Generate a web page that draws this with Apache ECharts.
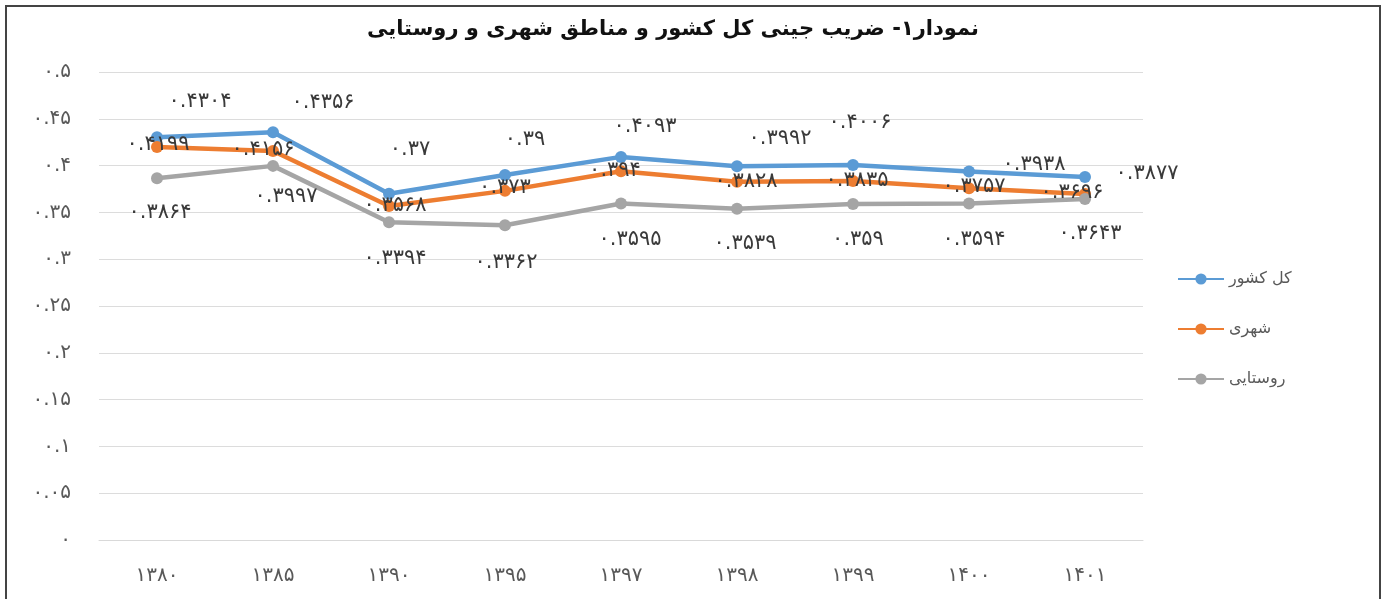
<!DOCTYPE html>
<html><head><meta charset="utf-8">
<script src="https://cdn.jsdelivr.net/npm/echarts@6/dist/echarts.min.js"></script>
<style>html,body{margin:0;padding:0;background:#fff}#c{width:1384px;height:599px}</style>
</head><body><div id="c"></div>
<script>
const titleText = 'نمودار۱- ضریب جینی کل کشور و مناطق شهری و روستایی';
const categories = ['1380','1385','1390','1395','1397','1398','1399','1400','1401'];
const seriesNames = ['کل کشور','شهری','روستایی'];
const totalValues = [0.4304,0.4356,0.37,0.39,0.4093,0.3992,0.4006,0.3938,0.3877];
const urbanValues = [0.4199,0.4156,0.3568,0.373,0.394,0.3828,0.3835,0.3757,0.3696];
const ruralValues = [0.3864,0.3997,0.3394,0.3362,0.3595,0.3539,0.359,0.3594,0.3643];

// label offsets (style only)
const totalOffsets = [[43,-36],[50,-30],[21,-44],[20,-35],[24,-30],[43,-28],[7,-42],[65,-7],[62,-4]];
const urbanOffsets = [[1,-2],[-10,-1],[6,0],[0,-3],[-6,-1],[9,0],[4,0],[5,-2],[-13,-2]];
const ruralOffsets = [[3,34],[13,31],[6,36],[1,37],[9,36],[8,35],[5,36],[5,36],[5,35]];

const FONT = 'DejaVu Sans';
function fa(s){ return String(s).replace(/[0-9]/g, d => '۰۱۲۳۴۵۶۷۸۹'[+d]); }
function fmtTick(v){ let s = (+v).toFixed(2).replace(/0+$/,'').replace(/\.$/,''); return fa(s); }

function mk(name, vals, offs, color){
  return {
    name, type:'line', data: vals.map((v,i)=>({value:v, label:{offset:offs[i]}})),
    symbol:'circle', symbolSize:12,
    lineStyle:{width:4.5,color}, itemStyle:{color},
    label:{show:true, position:'inside', color:'#3a3a3a', fontFamily:FONT, fontSize:21,
      formatter:p=>fa(String(p.value))},
    z: 2
  };
}

const chart = echarts.init(document.getElementById('c'));
chart.setOption({
  animation:false,
  backgroundColor:'#fff',
  title:{text:titleText, left:668, top:14, textAlign:'center',
    textStyle:{fontFamily:FONT, fontSize:21, fontWeight:'bold', color:'#111'}},
  graphic:[{type:'rect', shape:{x:6,y:6,width:1374,height:640}, style:{fill:null, stroke:'#444', lineWidth:2}, silent:true}],
  legend:{orient:'vertical', left:1172, top:266, itemGap:34, itemWidth:46, itemHeight:14,
    textStyle:{fontFamily:FONT, fontSize:16, color:'#595959'},
    data:seriesNames},
  grid:{left:99, right:241, top:72, bottom:59},
  xAxis:{type:'category', data:categories, boundaryGap:true,
    axisLine:{show:true, lineStyle:{color:'#d9d9d9', width:1}}, axisTick:{show:false},
    axisLabel:{fontFamily:FONT, fontSize:20, color:'#595959', margin:26, formatter:v=>fa(v)}},
  yAxis:{type:'value', min:0, max:0.5, interval:0.05,
    axisLine:{show:false}, axisTick:{show:false},
    splitLine:{lineStyle:{color:'#dcdcdc', width:1}},
    axisLabel:{fontFamily:FONT, fontSize:20, color:'#595959', margin:28, formatter:fmtTick}},
  series:[
    mk(seriesNames[0], totalValues, totalOffsets, '#5B9BD5'),
    mk(seriesNames[1], urbanValues, urbanOffsets, '#ED7D31'),
    mk(seriesNames[2], ruralValues, ruralOffsets, '#A5A5A5')
  ]
});
</script></body></html>
